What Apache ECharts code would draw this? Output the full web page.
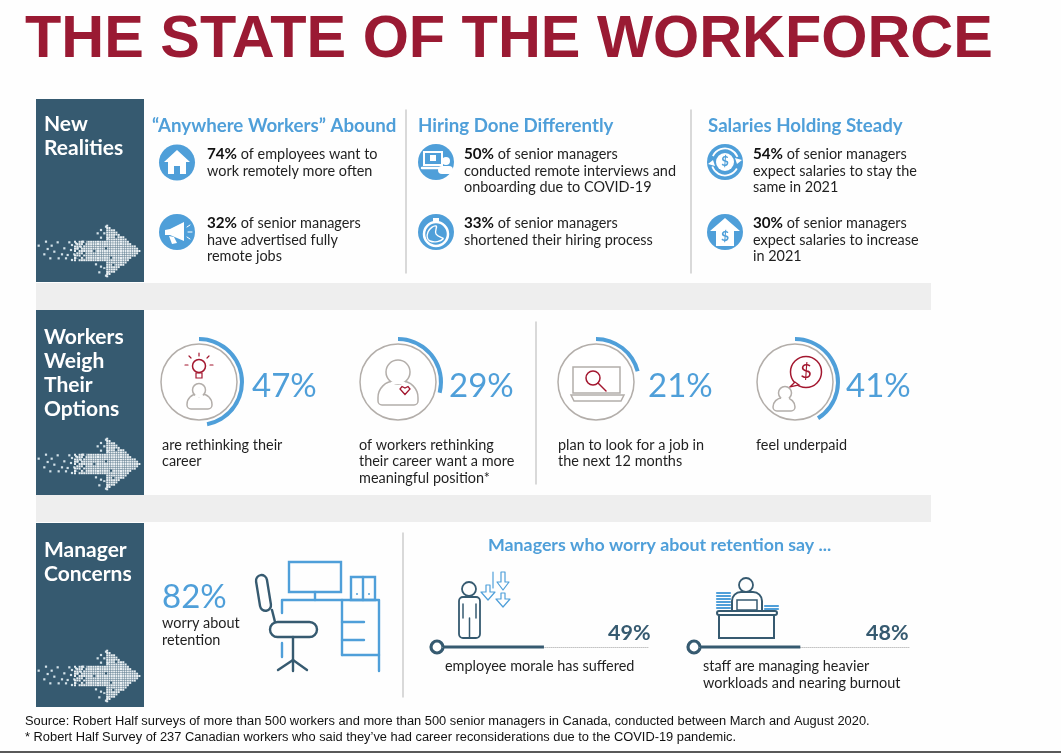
<!DOCTYPE html>
<html><head><meta charset="utf-8">
<script src="https://cdn.jsdelivr.net/npm/echarts@6/dist/echarts.min.js"></script>
<style>html,body{margin:0;padding:0;background:#fff}#c{width:1061px;height:753px}</style>
</head><body><div id="c"></div>
<script>
const titleText = 'THE STATE OF THE WORKFORCE';
const panelTitles = [['New','Realities'],['Workers','Weigh','Their','Options'],['Manager','Concerns']];
const headings = ['\u201CAnywhere Workers\u201D Abound','Hiring Done Differently','Salaries Holding Steady'];
const realityPercents = ['74%','32%','50%','33%','54%','30%'];
const realityLines = [
  [' of employees want to','work remotely more often'],
  [' of senior managers','have advertised fully','remote jobs'],
  [' of senior managers','conducted remote interviews and','onboarding due to COVID-19'],
  [' of senior managers','shortened their hiring process'],
  [' of senior managers','expect salaries to stay the','same in 2021'],
  [' of senior managers','expect salaries to increase','in 2021']
];
const optionValues = [47,29,21,41];
const optionLines = [
  ['are rethinking their','career'],
  ['of workers rethinking','their career want a more','meaningful position*'],
  ['plan to look for a job in','the next 12 months'],
  ['feel underpaid']
];
const retentionValue = 82;
const retentionLines = ['worry about','retention'];
const sayHeading = 'Managers who worry about retention say ...';
const sayValues = [49,48];
const sayLines = [['employee morale has suffered'],['staff are managing heavier','workloads and nearing burnout']];
const footerLines = [
  'Source: Robert Half surveys of more than 500 workers and more than 500 senior managers in Canada, conducted between March and August 2020.',
  '* Robert Half Survey of 237 Canadian workers who said they\u2019ve had career reconsiderations due to the COVID-19 pandemic.'
];

const BLUE='#4f9fd9', NAVY='#365a70', RED='#a3172f', GREY='#b3aeaa', INK='#1f1f1f', FONT='Lato';
const g=[];
const T=(x,y,text,o={})=>g.push({type:'text',x,y,silent:true,style:Object.assign({text,fontFamily:FONT,fontSize:14.45,fill:INK,verticalAlign:'middle',textVerticalAlign:'middle',textAlign:'left'},o)});
const R=(x,y,width,height,style,r,extra)=>g.push(Object.assign({type:'rect',silent:true,shape:{x,y,width,height,r:r||0},style},extra||{}));
const C=(cx,cy,r,style)=>g.push({type:'circle',silent:true,shape:{cx,cy,r},style});
const P=(points,style)=>g.push({type:'polyline',silent:true,shape:{points},style:Object.assign({fill:null,lineCap:'round',lineJoin:'round'},style)});
const G=(points,style,smooth)=>g.push({type:'polygon',silent:true,shape:{points,smooth:smooth||0},style});
const L=(a,b,c,d,stroke,lineWidth,extra)=>g.push({type:'line',silent:true,shape:{x1:a,y1:b,x2:c,y2:d},style:Object.assign({stroke,lineWidth,lineCap:'round'},extra||{})});
const A=(cx,cy,r,s,e,style)=>g.push({type:'arc',silent:true,shape:{cx,cy,r,startAngle:s,endAngle:e,clockwise:true},style:Object.assign({fill:null},style)});

// page frame
R(36,283,895,27,{fill:'#eeeeee'});
R(36,495,895,27,{fill:'#eeeeee'});
L(0,752,1061,752,'#222',1.5);
T(25,41,titleText,{fontFamily:'Liberation Sans',fontWeight:'bold',fontSize:59.4,fill:'#9a1a33'});

// side panels with arrows
const panels=[[99,183],[310,185],[523,184]];
const tailDots=[[8,92],[30,80],[47,92],[65,82],[35,102],[55,110],[25,118],[43,130],[68,130],[85,100],[100,82],[78,118],[90,130],[108,90],[120,85],[105,105],[115,118],[95,120],[125,100],[108,135],[140,80],[135,95],[210,35],[195,45],[185,55],[205,55],[195,68],[215,70],[180,148],[195,155],[205,160],[215,172],[210,182],[190,172]];
const darkDots=[[175,108],[210,100],[240,65],[225,128],[232,150],[148,80],[125,128],[145,128],[205,165]];
function arrow(tipY){
  const oy=tipY-251;
  tailDots.forEach(d=>R(36+d[0]/3-1.1,215+oy+d[1]/3-1.1,2.2,2.2,{fill:'#d4e2e9'}));
  for(let i=0;i<29;i++){
    for(let j=-11;j<=11;j++){
      const x=74+i*2.3, y=tipY+j*2.3;
      const dy=Math.abs(y-tipY);
      const inBody=x<107&&dy<=10.5, inHead=x>=104&&dy<=(140-x)*0.78;
      if(!inBody&&!inHead) continue;
      if(x<84&&((i*7+j*3+33)%4===0)) continue;
      R(x,y-1,2.0,2.0,{fill:'#e9eff2'});
    }
  }
  darkDots.forEach(d=>R(36+d[0]/3-1.1,215+oy+d[1]/3-1.1,2.2,2.2,{fill:NAVY}));
}
panels.forEach((p,i)=>{
  R(36,p[0],108,p[1],{fill:NAVY});
  arrow(p[0]+p[1]-31);
});
const panelY=[[124,148],[337,361,385,409],[550,574]];
panelTitles.forEach((ls,i)=>ls.forEach((t,j)=>T(44,panelY[i][j],t,{fill:'#fff',fontSize:21,fontWeight:'bold'})));

// dividers
[[406,110,273],[691,110,273],[536,322,484],[403,533,697]].forEach(d=>L(d[0],d[1],d[0],d[2],'#c9c9c9',1.4));

// headings
const headingX=[152,418,708];
headings.forEach((t,i)=>T(headingX[i],125.5,t,{fill:BLUE,fontSize:18.7,fontWeight:'bold'}));

// reality rows
const rowPos=[[207,[154,171]],[207,[223,240,256]],[464,[154,171,187]],[464,[223,240]],[753,[154,171,187]],[753,[223,240,256]]];
realityLines.forEach((ls,i)=>{
  const [x,ys]=rowPos[i];
  ls.forEach((t,j)=>{
    if(j===0) T(x,ys[0],'{b|'+realityPercents[i]+'}{r|'+t+'}',{rich:{b:{fontFamily:FONT,fontSize:15.2,fontWeight:'bold',fill:'#111'},r:{fontFamily:FONT,fontSize:14.45,fill:INK}}});
    else T(x,ys[j],t);
  });
});
// round icons
[[177,162.5],[177,232],[436,162],[436,232],[725,162],[725,232]].forEach(c=>C(c[0],c[1],18,{fill:BLUE}));
// house
G([[177,150],[190,162],[186,162],[186,174],[180,174],[180,166],[174,166],[174,174],[168,174],[168,162],[164,162]],{fill:'#fff'});
// megaphone
G([[165,230],[170,229],[184,222],[184,241],[170,235],[165,235]],{fill:'#fff'});
G([[169,236],[174,237],[177,243],[172,244]],{fill:'#fff'});
L(187,227,190,225,'#fff',1);L(188,232,192,232,'#fff',1);L(187,237,190,239,'#fff',1);
// laptop + person
R(424,152,18,13,{fill:null,stroke:'#fff',lineWidth:2});
L(422,168,441,168,'#fff',2.4);
R(430,155,6,6,{fill:'#fff'});
C(446,161,4,{fill:'#fff'});
R(438,166,15,8,{fill:'#fff'},4);
// stopwatch
C(436,234,12,{fill:null,stroke:'#fff',lineWidth:2.5});
R(433,218,6,3,{fill:'#fff'});
G([[436,226],[436,234],[443,239],[430,241],[428,232]],{fill:null,stroke:'#fff',lineWidth:1.4},0.5);
// $ cycle
C(725,162,9,{fill:'#fff'});
T(725,162,'$',{fontSize:13,fontWeight:'bold',fill:BLUE,textAlign:'center'});
A(725,162,13.5,3.6,5.9,{stroke:'#fff',lineWidth:1.8});
A(725,162,13.5,0.5,2.8,{stroke:'#fff',lineWidth:1.8});
G([[737,164],[742,160],[735,158]],{fill:'#fff'});G([[713,160],[708,164],[715,166]],{fill:'#fff'});
// up-arrow $
G([[725,218],[740,231],[734,231],[734,246],[716,246],[716,231],[710,231]],{fill:'#fff'});
T(725,236,'$',{fontSize:14,fontWeight:'bold',fill:BLUE,textAlign:'center'});

// option circles
const optionCenters=[[199,382],[398,382],[596,382],[795,382]];
const optionPctX=[252,449,648,846];
const optionTextX=[162,359,558,756];
optionCenters.forEach(c=>C(c[0],c[1],38,{fill:'#fff',stroke:GREY,lineWidth:1.5}));
optionValues.forEach((v,i)=>{
  T(optionPctX[i],386,v+'%',{fontSize:33,fill:BLUE,fontWeight:400});
  optionLines[i].forEach((t,j)=>T(optionTextX[i],445+j*16.5,t));
});
function person(cx,hy,hr,bx,by,bw,bh){
  R(bx,by,bw,bh,{fill:'#fff',stroke:GREY,lineWidth:1.5},[bw/2.4,bw/2.4,4,4]);
  C(cx,hy,hr,{fill:'#fff',stroke:GREY,lineWidth:1.5});
  R(cx-hr*0.6,hy+hr-2,hr*1.2,(by-hy-hr)+5,{fill:'#fff'});
}
// bulb
C(199,366,6.5,{fill:null,stroke:RED,lineWidth:1.5});
R(196,373,6,5,{fill:null,stroke:RED,lineWidth:1.2});
[[199,353,199,356],[189,356,191,358],[209,356,207,358],[185,365,188,365],[213,365,210,365]].forEach(s=>L(s[0],s[1],s[2],s[3],RED,1.2));
person(199,390,6.5,187,394,25,15);
// heart person
person(398,372,12,378,381,40,24);
G([[405,394.5],[400,389],[402,386.5],[405,388],[408,386.5],[410,389]],{fill:null,stroke:RED,lineWidth:1.3});
// laptop
R(573,367,47,26,{fill:null,stroke:GREY,lineWidth:1.5});
G([[571,395],[624,395],[621,401],[574,401]],{fill:null,stroke:GREY,lineWidth:1.5});
C(593,378,7,{fill:null,stroke:RED,lineWidth:1.5});
L(598,383,606,391,RED,1.5);
// speech bubble + person
C(806,372,15.5,{fill:'#fff',stroke:RED,lineWidth:1.5});
G([[795,382],[790,387],[799,385]],{fill:'#fff',stroke:RED,lineWidth:1.3});
T(806,372,'$',{fontSize:20,fill:RED,textAlign:'center'});
person(785,393,6.5,773,398,22,13);

// manager concerns
T(162,597,retentionValue+'%',{fontSize:33,fill:BLUE});
retentionLines.forEach((t,j)=>T(162,623+j*17,t));
const blueLn={fill:null,stroke:BLUE,lineWidth:2.4};
R(289,562,52,30,blueLn);
L(315,592,315,600,BLUE,2.4);
P([[282,613],[282,600],[379,600],[379,671]],{stroke:BLUE,lineWidth:2.4});
L(282,643,282,657,BLUE,2.4);
L(342,600,342,655,BLUE,2.4);L(342,622,364,622,BLUE,2.4);L(342,640,364,640,BLUE,2.4);L(342,655,379,655,BLUE,2.4);
R(351,577,24,23,blueLn);L(363,577,363,600,BLUE,2.4);
C(357,594,1,{fill:BLUE});C(369,594,1,{fill:BLUE});
const darkLn={fill:null,stroke:NAVY,lineWidth:2.4};
R(258,575,11,36,darkLn,5.5,{rotation:0.16,originX:263,originY:593});
L(272,610,275,622,NAVY,2.4);
R(270,622,47,15,darkLn,7.5);
L(293,637,293,671,NAVY,2.4);
L(293,660,278,670,NAVY,2.4);L(293,660,307,670,NAVY,2.4);

T(488,545,sayHeading,{fill:BLUE,fontSize:17.8,fontWeight:'bold'});
// morale figure
const nl={fill:null,stroke:NAVY,lineWidth:1.8};
C(469,589,7,nl);
R(459,597,21,41,{fill:'#fff',stroke:NAVY,lineWidth:1.8},4);
L(463,618,463,604,NAVY,1.5);L(476,618,476,604,NAVY,1.5);L(469.5,618,469.5,638,NAVY,1.5);
function down(x,y1,y2,w){
  const s={stroke:BLUE,lineWidth:1.2};
  P([[x-2,y1],[x+2,y1],[x+2,y2-8],[x+w,y2-8],[x,y2],[x-w,y2-8],[x-2,y2-8],[x-2,y1]],s);
}
down(488,585,600,7);down(503,593,607,7);down(503,572,590,6);
L(493,572,493,588,BLUE,1.2);
// desk worker
C(746,585,7,nl);
R(732,592,30,20,{fill:'#fff',stroke:NAVY,lineWidth:2},[9,9,0,0]);
[593,596,599,602,605,608].forEach(y=>L(717,y,730,y,BLUE,2.2));
[606,609].forEach(y=>L(765,y,778,y,BLUE,2.2));
R(737,600,20,10,{fill:'#fff',stroke:NAVY,lineWidth:1.5});
R(717,611,60,4,{fill:'#fff',stroke:NAVY,lineWidth:2},2);
R(719,615,55,23,{fill:null,stroke:NAVY,lineWidth:2});
// rings and value labels
const ringX=[437,694], sayPctX=[608,866];
sayValues.forEach((v,i)=>T(sayPctX[i],633,v+'%',{fontSize:21.5,fill:NAVY,fontWeight:'bold'}));
sayLines[0].forEach((t,j)=>T(445,666+j*17,t));
sayLines[1].forEach((t,j)=>T(703,666+j*17,t));
// footer
T(25,721,footerLines[0],{fontFamily:'Liberation Sans',fontSize:12.85,fill:'#111'});
T(25,737,footerLines[1],{fontFamily:'Liberation Sans',fontSize:12.85,fill:'#111'});
ringX.forEach(x=>C(x,647,6,{fill:'#fff',stroke:NAVY,lineWidth:3.2}));

// data-driven marks: rings and progress bars
const donut=(v,c)=>({type:'pie',silent:true,animation:false,center:c,radius:[41,45],startAngle:90,clockwise:true,label:{show:false},labelLine:{show:false},
  data:[{value:v,name:'share',itemStyle:{color:BLUE}},{value:100-v,name:'rest',itemStyle:{color:'transparent'}}]});
const grids=[{left:443,top:646.5,width:206,height:1},{left:700,top:646.5,width:209,height:1}];
const option={
  animation:false,
  backgroundColor:'#fefefe',
  graphic:{elements:g},
  grid:grids,
  xAxis:grids.map((_,i)=>({type:'value',gridIndex:i,min:0,max:100,axisLabel:{show:false},axisTick:{show:false},splitLine:{show:false},axisLine:{show:true,lineStyle:{color:'#c4c4c4',type:'dotted',width:1}}})),
  yAxis:grids.map((_,i)=>({type:'category',gridIndex:i,data:['share'],show:false})),
  series:optionValues.map((v,i)=>donut(v,optionCenters[i])).concat(
    sayValues.map((v,i)=>({type:'bar',silent:true,clip:false,z:5,xAxisIndex:i,yAxisIndex:i,barWidth:3,data:[v],itemStyle:{color:NAVY}})))
};
echarts.init(document.getElementById('c')).setOption(option);
</script></body></html>
